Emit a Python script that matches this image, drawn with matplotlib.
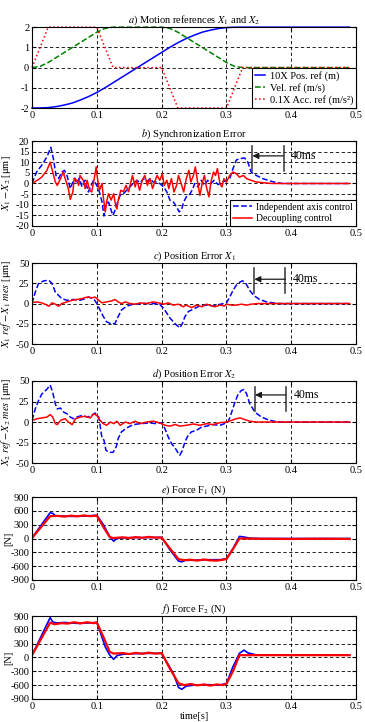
import matplotlib.pyplot as plt
import numpy as np

plt.rcParams["font.family"] = "Liberation Serif"
plt.rcParams["mathtext.fontset"] = "stix"
plt.rcParams["axes.unicode_minus"] = False

# a) motion references (read off the plot)
t_ref = [0, 0.0125, 0.025, 0.0375, 0.05, 0.0625, 0.075, 0.0875, 0.1, 0.1125, 0.125,
         0.15, 0.175, 0.2, 0.2125, 0.225, 0.2375, 0.25, 0.2625, 0.275, 0.2875, 0.3,
         0.3125, 0.325, 0.49]
pos_ref = [-2, -1.997, -1.98, -1.93, -1.85, -1.75, -1.6, -1.43, -1.23, -1.0, -0.75,
           -0.25, 0.25, 0.75, 1.0, 1.23, 1.43, 1.6, 1.75, 1.85, 1.93, 1.98,
           1.997, 2, 2]
vel_ref = [0, 0.06, 0.25, 0.5, 0.75, 1.0, 1.25, 1.5, 1.75, 1.94, 2,
           2, 2, 2, 1.94, 1.75, 1.5, 1.25, 1.0, 0.75, 0.5, 0.25,
           0.06, 0, 0]
t_acc = [0, 0.025, 0.1, 0.125, 0.2, 0.225, 0.3, 0.325, 0.49]
acc_ref = [0, 2, 2, 0, 0, -2, -2, 0, 0]

# b) synchronization error [um]  (time, value)
b_ind = np.array([
    (0, 0), (0.007, 5.4), (0.015, 8.6), (0.023, 12.5), (0.029, 17), (0.033, 11.7),
    (0.037, 3.8), (0.041, 2.3), (0.046, 5.4), (0.05, 6.2), (0.054, 3.8), (0.059, -2.4),
    (0.062, 0), (0.066, 2.5), (0.069, 0), (0.073, 2.5), (0.077, -1.6), (0.082, 1.5),
    (0.087, -4), (0.091, -1), (0.095, 1.5), (0.1, -0.9), (0.104, -4), (0.108, -8.7),
    (0.111, -15.3), (0.114, -10), (0.118, -8.7), (0.122, -12.6), (0.125, -15),
    (0.128, -12.6), (0.132, -8.7), (0.136, -5.6), (0.141, -4.8), (0.146, -3.2),
    (0.151, -1.6), (0.156, 0), (0.162, 1.5), (0.167, 0.4), (0.172, 2.3), (0.177, 0.7),
    (0.182, 2.3), (0.187, 0.7), (0.192, 0.7), (0.197, 0), (0.203, -1.6), (0.208, -4),
    (0.213, -8), (0.218, -8.7), (0.223, -11), (0.227, -13.4), (0.231, -12),
    (0.234, -8.7), (0.238, -6.3), (0.244, -4.8), (0.248, -2.5), (0.251, 0),
    (0.256, -1.6), (0.261, 1.5), (0.266, -0.8), (0.271, 1.5), (0.276, 0), (0.281, 1.5),
    (0.287, -0.5), (0.293, 0.5), (0.3, 1.5), (0.305, 2.3), (0.31, 7), (0.315, 11),
    (0.32, 11.7), (0.328, 12), (0.333, 10), (0.338, 5.4), (0.346, 3.8), (0.356, 2.3),
    (0.367, 1.2), (0.377, 0.4), (0.387, 0), (0.49, 0)])
b_dec = np.array([
    (0, 0), (0.008, 1.5), (0.015, 3), (0.023, 6.2), (0.028, 10), (0.032, 5.4),
    (0.036, 0.7), (0.039, -0.9), (0.044, 2.3), (0.048, 5.4), (0.052, 1.5), (0.056, -2.4),
    (0.059, -7.5), (0.063, -4), (0.065, 2.3), (0.069, 1.5), (0.072, -0.9), (0.074, 3.8),
    (0.079, 1.5), (0.082, -2.4), (0.085, 1.5), (0.089, -3.2), (0.092, -4), (0.096, 2.3),
    (0.099, 7.8), (0.101, 2.3), (0.104, -3.2), (0.108, 0), (0.11, -6.3), (0.113, -13.4),
    (0.115, -8.7), (0.118, -4.8), (0.122, -7.8), (0.126, -4.8), (0.128, -8.7),
    (0.131, -12), (0.133, -7.8), (0.137, -3.2), (0.141, -3.9), (0.145, -0.9),
    (0.149, -3.9), (0.152, 0), (0.155, 3.8), (0.159, -1.6), (0.162, 1.5), (0.166, -3.2),
    (0.17, 1.5), (0.174, 3.8), (0.178, -0.9), (0.182, 2.3), (0.186, -2.4), (0.19, 1.5),
    (0.193, 3.8), (0.197, 1.5), (0.201, 4.6), (0.204, -0.9), (0.208, 1.5), (0.211, -2.4),
    (0.215, 2.3), (0.219, -4), (0.223, -0.9), (0.226, 3.8), (0.231, -0.9), (0.234, -4),
    (0.238, 2.3), (0.242, 6.2), (0.245, 0.7), (0.249, 3.8), (0.252, 7.8), (0.255, 1.5),
    (0.259, -5.6), (0.263, 0.7), (0.266, 3.8), (0.269, -1.6), (0.273, -6.3),
    (0.276, 0.7), (0.28, 5.4), (0.283, 3.8), (0.286, 7), (0.29, -0.2), (0.293, -1.6),
    (0.296, 2.3), (0.3, 0.7), (0.305, 3.8), (0.31, 5.4), (0.315, 4.6), (0.32, 3),
    (0.326, 3.8), (0.331, 2.3), (0.338, 1.5), (0.346, 0.7), (0.356, 0.4), (0.37, 0),
    (0.49, 0)])

# c) position error X1 [um]
c_ind = np.array([
    (0, 0), (0.005, 14), (0.01, 24.6), (0.018, 28), (0.026, 28.7), (0.031, 24.6),
    (0.036, 14), (0.041, 10), (0.046, 6), (0.054, 4), (0.064, 5), (0.074, 4),
    (0.082, 6), (0.087, 8), (0.095, 6), (0.1, 0), (0.105, -8), (0.11, -16),
    (0.115, -22.5), (0.123, -25.4), (0.128, -24.6), (0.133, -16), (0.138, -8),
    (0.146, -3.3), (0.156, -0.8), (0.172, 0), (0.187, 0), (0.197, -1), (0.203, -6),
    (0.208, -12), (0.213, -18), (0.218, -22.5), (0.223, -26.6), (0.228, -30),
    (0.232, -24.6), (0.236, -16), (0.241, -10), (0.246, -8), (0.251, -6), (0.259, -3),
    (0.269, -2), (0.279, -3), (0.29, -1), (0.3, 0.8), (0.305, 8), (0.31, 16),
    (0.315, 22.5), (0.321, 26.6), (0.325, 28), (0.33, 24.6), (0.336, 16), (0.342, 10),
    (0.351, 5), (0.362, 2), (0.372, 0.8), (0.382, 0), (0.49, 0)])
c_dec = np.array([
    (0, 1.2), (0.008, 2), (0.015, 0.8), (0.02, -0.8), (0.026, -3.3), (0.031, 0.8),
    (0.036, -0.8), (0.041, -3.3), (0.046, 0), (0.054, 2), (0.062, 4), (0.069, 5),
    (0.077, 6), (0.082, 7.4), (0.087, 8), (0.092, 7), (0.097, 8), (0.103, 4),
    (0.108, 0.8), (0.115, 2), (0.123, 3.3), (0.128, 5), (0.133, 2), (0.138, 0),
    (0.144, 2), (0.151, 0), (0.159, -0.8), (0.167, 0.8), (0.177, 0), (0.187, 2),
    (0.195, 0.8), (0.203, -0.8), (0.21, 0.8), (0.218, -2), (0.226, -0.8), (0.233, -4),
    (0.238, -2), (0.246, -5), (0.254, -2), (0.262, -4), (0.269, -0.8), (0.282, -4),
    (0.29, -2), (0.297, -3), (0.3, -0.8), (0.308, -2), (0.315, -2), (0.323, -0.8),
    (0.331, -2), (0.338, -0.8), (0.349, 0), (0.49, 0)])

# d) position error X2 [um]
d_ind = np.array([
    (0, 2), (0.005, 16), (0.01, 26), (0.015, 34), (0.023, 40), (0.028, 45),
    (0.032, 36), (0.036, 22), (0.039, 16), (0.044, 17), (0.049, 12), (0.054, 10),
    (0.059, 6), (0.064, 4), (0.069, 6), (0.077, 8), (0.085, 6), (0.092, 8),
    (0.097, 11), (0.103, 6), (0.105, -4), (0.108, -20), (0.111, -22), (0.114, -34.4),
    (0.119, -37), (0.125, -37), (0.13, -30), (0.133, -20), (0.138, -12),
    (0.146, -7.3), (0.156, -3.2), (0.167, -2), (0.182, -1.2), (0.192, -2),
    (0.2, -0.8), (0.205, -8), (0.21, -18), (0.215, -26), (0.221, -32),
    (0.226, -38.5), (0.228, -40.5), (0.232, -34.4), (0.236, -24), (0.241, -16),
    (0.246, -12), (0.254, -10), (0.262, -6), (0.269, -5), (0.279, -3.2), (0.29, -4),
    (0.297, -2), (0.303, 0.8), (0.308, 12), (0.313, 24), (0.318, 34), (0.323, 38.5),
    (0.327, 39.7), (0.331, 34.4), (0.336, 22), (0.344, 12), (0.354, 6), (0.364, 2.8),
    (0.374, 0.8), (0.385, 0), (0.49, 0)])
d_dec = np.array([
    (0, 2), (0.008, 4), (0.015, 5), (0.023, 6), (0.028, 9), (0.032, 6),
    (0.036, -2), (0.039, -3.2), (0.044, 2), (0.051, 4), (0.056, 0), (0.062, -3.2),
    (0.067, 4), (0.074, 6), (0.082, 7), (0.09, 5), (0.095, 10), (0.1, 8),
    (0.105, 2), (0.11, -2), (0.115, -4), (0.121, 0), (0.126, -2), (0.131, 1),
    (0.136, -4), (0.144, 0), (0.151, -2), (0.159, 1), (0.167, -2), (0.177, 0),
    (0.187, 1), (0.197, -1), (0.205, -4), (0.213, -5), (0.221, -3), (0.228, -5),
    (0.238, -4), (0.249, -2.4), (0.259, -4), (0.269, -2), (0.279, -3.2), (0.29, -0.8),
    (0.3, 0), (0.308, 2), (0.315, 4), (0.321, 5), (0.328, 3), (0.336, 1),
    (0.346, 0), (0.49, 0)])

# e) force F1 [N]
e_ind = np.array([
    (0, 15), (0.028, 560), (0.032, 545), (0.036, 495), (0.045, 490), (0.06, 480),
    (0.075, 485), (0.09, 495), (0.1, 505), (0.11, 300), (0.12, 40), (0.126, -60),
    (0.131, 0), (0.14, 15), (0.16, 20), (0.18, 20), (0.2, 25), (0.213, -250),
    (0.226, -490), (0.231, -505), (0.236, -475), (0.25, -470), (0.27, -460),
    (0.29, -460), (0.3, -440), (0.31, -220), (0.32, 45), (0.326, 35), (0.335, 10),
    (0.35, 0), (0.49, 0)])
e_dec = np.array([
    (0, 10), (0.028, 485), (0.04, 490), (0.05, 475), (0.06, 495), (0.07, 480),
    (0.08, 500), (0.09, 485), (0.1, 495), (0.11, 250), (0.12, 30), (0.125, 10),
    (0.14, 25), (0.15, 10), (0.16, 30), (0.17, 15), (0.18, 35), (0.19, 20),
    (0.2, 20), (0.213, -220), (0.226, -450), (0.235, -470), (0.245, -460),
    (0.255, -480), (0.265, -455), (0.275, -475), (0.285, -480), (0.295, -460),
    (0.3, -445), (0.31, -230), (0.32, 0), (0.35, -5), (0.4, -10), (0.45, -5),
    (0.49, -10)])

# f) force F2 [N]
f_ind = np.array([
    (0, 50), (0.028, 865), (0.032, 770), (0.038, 750), (0.05, 760), (0.07, 740),
    (0.09, 750), (0.1, 760), (0.105, 560), (0.113, 230), (0.12, 50), (0.126, -40),
    (0.131, 40), (0.14, 70), (0.16, 85), (0.18, 90), (0.2, 90), (0.21, -150),
    (0.218, -345), (0.226, -650), (0.231, -690), (0.238, -620), (0.25, -600),
    (0.27, -590), (0.29, -600), (0.3, -560), (0.31, -200), (0.32, 90), (0.327, 160),
    (0.333, 100), (0.346, 55), (0.49, 55)])
f_dec = np.array([
    (0, 50), (0.028, 755), (0.035, 720), (0.045, 745), (0.055, 735), (0.065, 765),
    (0.075, 740), (0.085, 765), (0.095, 745), (0.1, 760), (0.11, 450), (0.12, 120),
    (0.126, 85), (0.14, 95), (0.15, 75), (0.16, 100), (0.17, 80), (0.18, 105),
    (0.19, 85), (0.2, 95), (0.213, -250), (0.226, -560), (0.235, -600),
    (0.245, -575), (0.255, -605), (0.265, -585), (0.275, -610), (0.285, -585),
    (0.295, -600), (0.3, -570), (0.31, -300), (0.32, 50), (0.49, 50)])

xticks = [0, 0.1, 0.2, 0.3, 0.4, 0.5]
xticklabels = ["0", "0.1", "0.2", "0.3", "0.4", "0.5"]

fig = plt.figure(figsize=(3.65, 7.22), dpi=100)
left, width = 0.0877, 0.888
rects = [(0.8504, 0.112), (0.687, 0.1177), (0.5235, 0.1122),
         (0.3587, 0.1136), (0.1967, 0.1149), (0.0319, 0.1149)]
axes = [fig.add_axes([left, b, width, h]) for (b, h) in rects]


def style(ax, ylim, yticks, title):
    ax.set_xlim(0, 0.5)
    ax.set_xticks(xticks)
    ax.set_xticklabels(xticklabels)
    ax.set_ylim(*ylim)
    ax.set_yticks(yticks)
    ax.grid(True, color="k", ls=(0, (4, 3)), lw=0.6)
    ax.tick_params(direction="in", top=True, right=True, length=3,
                   labelsize=7.5, pad=2)
    for s in ax.spines.values():
        s.set_linewidth(0.8)
    ax.set_title(title, fontsize=7.5, pad=3)
    ax.yaxis.set_label_coords(-0.058, 0.5)


def mark40(ax, x1, x2, y0, y1, ya):
    ax.plot([x1, x1], [y0, y1], color="0.2", lw=1.1)
    ax.plot([x2, x2], [y0, y1], color="0.2", lw=1.1)
    ax.annotate("", xy=(x1, ya), xytext=(x2, ya),
                arrowprops=dict(arrowstyle="-|>", color="0.1", lw=0.9,
                                mutation_scale=9, shrinkA=0, shrinkB=0))
    ax.text(x2 + 0.012, ya, "40ms", va="center", ha="left", fontsize=8.5)


# a)
ax = axes[0]
ax.plot(t_ref, pos_ref, color="b", lw=1.1, label="10X Pos. ref (m)", clip_on=False)
ax.plot(t_ref, vel_ref, "--", color=(0, 0.5, 0), lw=1.1, label="Vel. ref (m/s)",
        clip_on=False)
ax.plot(t_acc, acc_ref, ":", color="r", lw=1.1, label="0.1X Acc. ref (m/s²)",
        clip_on=False)
style(ax, (-2, 2), [-2, -1, 0, 1, 2], r"$a$) Motion references $X_1$ and $X_2$")
leg = ax.legend(loc="lower right", fontsize=7.5, borderaxespad=0, handlelength=1.0,
                fancybox=False, framealpha=1, edgecolor="k", borderpad=0.3,
                labelspacing=0.2, handletextpad=0.4)
leg.get_frame().set_linewidth(0.8)

# b)
ax = axes[1]
ax.plot(b_ind[:, 0], b_ind[:, 1], "--", color="b", lw=1.1, label="Independent axis control")
ax.plot(b_dec[:, 0], b_dec[:, 1], color="r", lw=1.1, label="Decoupling control")
style(ax, (-20, 20), np.arange(-20, 21, 5), r"$b$) Synchronization Error")
ax.set_ylabel(r"$X_1 - X_2$ [μm]", fontsize=7.5)
mark40(ax, 0.34, 0.388, 6, 17.5, 13)
leg = ax.legend(loc="lower right", fontsize=7, borderaxespad=0, handlelength=2.0,
                fancybox=False, framealpha=1, edgecolor="k", borderpad=0.3,
                labelspacing=0.25, handletextpad=0.4)
leg.get_frame().set_linewidth(0.8)

# c)
ax = axes[2]
ax.plot(c_ind[:, 0], c_ind[:, 1], "--", color="b", lw=1.1)
ax.plot(c_dec[:, 0], c_dec[:, 1], color="r", lw=1.1)
style(ax, (-50, 50), [-50, -25, 0, 25, 50], r"$c$) Position Error $X_1$")
ax.set_ylabel(r"$X_1\ ref - X_1\ mes$ [μm]", fontsize=7.5)
mark40(ax, 0.343, 0.391, 13, 44, 30)

# d)
ax = axes[3]
ax.plot(d_ind[:, 0], d_ind[:, 1], "--", color="b", lw=1.1)
ax.plot(d_dec[:, 0], d_dec[:, 1], color="r", lw=1.1)
style(ax, (-50, 50), [-50, -25, 0, 25, 50], r"$d$) Position Error $X_2$")
ax.set_ylabel(r"$X_2\ ref - X_2\ mes$ [μm]", fontsize=7.5)
mark40(ax, 0.344, 0.392, 14, 43, 33)

# e)
ax = axes[4]
ax.plot(e_ind[:, 0], e_ind[:, 1], color="b", lw=1.2)
ax.plot(e_dec[:, 0], e_dec[:, 1], color="r", lw=1.6)
style(ax, (-900, 900), np.arange(-900, 901, 300), r"$e$) Force F$_1$ (N)")
ax.set_ylabel("[N]", fontsize=7.5)

# f)
ax = axes[5]
ax.plot(f_ind[:, 0], f_ind[:, 1], color="b", lw=1.2)
ax.plot(f_dec[:, 0], f_dec[:, 1], color="r", lw=1.6)
style(ax, (-900, 900), np.arange(-900, 901, 300), r"$f$) Force F$_2$ (N)")
ax.set_ylabel("[N]", fontsize=7.5)
ax.set_xlabel("time[s]", fontsize=7.5, labelpad=1)

fig.savefig("out.png", dpi=100)
